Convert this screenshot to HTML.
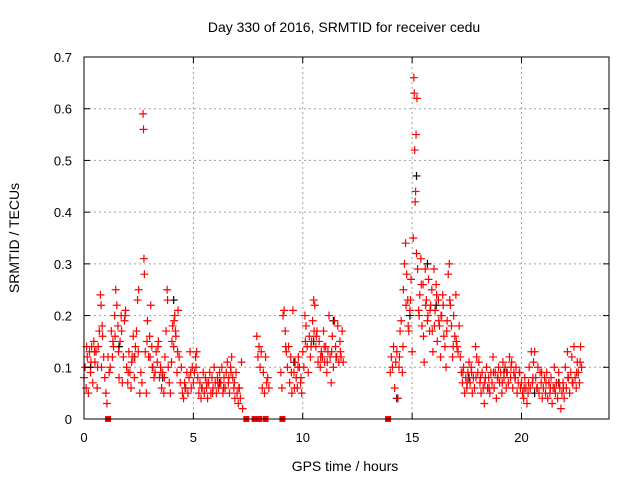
<!DOCTYPE html>
<html><head><meta charset="utf-8"><style>
body{margin:0;background:#fff;}
svg{display:block;font-family:"Liberation Sans",sans-serif;}
</style></head><body>
<svg id="chart" width="640" height="480" viewBox="0 0 640 480">
<rect width="640" height="480" fill="#fff"/>
<g id="grid"></g>
<g id="marks"></g>
<g id="axes"></g>
<text x="344" y="32" font-size="14" text-anchor="middle">Day 330 of 2016, SRMTID for receiver cedu</text>
<text x="345" y="471" font-size="14" text-anchor="middle">GPS time / hours</text>
<text transform="translate(19,238) rotate(-90)" font-size="14" text-anchor="middle">SRMTID / TECUs</text>
</svg>
<script>
const xTicks=[0,5,10,15,20];
const yTicks=[0,0.1,0.2,0.3,0.4,0.5,0.6,0.7];
const yTickLabels=["0","0.1","0.2","0.3","0.4","0.5","0.6","0.7"];
const hours=[0.0,0.05,0.1,0.15,0.2,0.25,0.3,0.35,0.4,0.45,0.5,0.55,0.6,0.65,0.7,0.75,0.78,0.8,0.85,0.9,0.95,1.0,1.05,1.1,1.15,1.2,1.25,1.3,1.35,1.4,1.45,1.5,1.55,1.6,1.65,1.7,1.75,1.8,1.85,1.9,1.95,2.0,2.05,2.1,2.15,2.2,2.25,2.3,2.35,2.4,2.45,2.5,2.55,2.6,2.65,2.7,2.72,2.74,2.76,2.8,2.85,2.9,2.95,3.0,3.05,3.1,3.15,3.2,3.25,3.3,3.35,3.4,3.45,3.5,3.55,3.6,3.65,3.7,3.75,3.8,3.82,3.85,3.9,3.95,4.0,4.05,4.1,4.15,4.2,4.25,4.3,4.35,4.4,4.45,4.5,4.55,4.6,4.65,4.7,4.75,4.8,4.85,4.9,4.95,5.0,5.05,5.1,5.15,5.2,5.25,5.3,5.35,5.4,5.45,5.5,5.55,5.6,5.65,5.7,5.75,5.8,5.85,5.9,5.95,6.0,6.05,6.1,6.15,6.2,6.25,6.3,6.35,6.4,6.45,6.5,6.55,6.6,6.65,6.7,6.75,6.8,6.85,6.9,6.95,7.0,7.05,7.1,7.15,7.2,7.25,
7.9,7.95,8.0,8.05,8.1,8.15,8.2,8.25,8.3,8.35,8.4,8.45,
9.0,9.05,9.1,9.15,9.2,9.25,9.3,9.35,9.4,9.45,9.5,9.55,9.6,9.65,9.7,9.75,9.8,9.85,9.9,9.95,10.0,10.05,10.1,10.15,10.2,10.25,10.3,10.35,10.4,10.45,10.5,10.55,10.6,10.65,10.7,10.75,10.8,10.85,10.9,10.95,11.0,11.05,11.1,11.15,11.2,11.25,11.3,11.35,11.4,11.45,11.5,11.55,11.6,11.65,11.7,11.75,11.8,11.85,
14.0,14.05,14.1,14.15,14.2,14.25,14.3,14.35,14.4,14.45,14.5,14.55,14.6,14.65,14.7,14.75,14.8,14.85,14.9,14.95,15.0,15.05,15.08,15.1,15.12,15.14,15.16,15.18,15.2,15.22,15.25,15.3,15.35,15.4,15.45,15.5,15.55,15.6,15.65,15.7,15.75,15.8,15.85,15.9,15.95,16.0,16.05,16.1,16.15,16.2,16.25,16.3,16.35,16.4,16.45,16.5,16.55,16.6,16.65,16.7,16.75,16.8,16.85,16.9,16.95,17.0,17.05,17.1,17.15,17.2,17.25,17.3,17.35,17.4,17.45,17.5,17.55,17.6,17.65,17.7,17.75,17.8,17.85,17.9,17.95,18.0,18.05,18.1,18.15,18.2,18.25,18.3,18.35,18.4,18.45,18.5,18.55,18.6,18.65,18.7,18.75,18.8,18.85,18.9,18.95,19.0,19.05,19.1,19.15,19.2,19.25,19.3,19.35,19.4,19.45,19.5,19.55,19.6,19.65,19.7,19.75,19.8,19.85,19.9,19.95,20.0,20.05,20.1,20.15,20.2,20.25,20.3,20.35,20.4,20.45,20.5,20.55,20.6,20.65,20.7,20.75,20.8,20.85,20.9,20.95,21.0,21.05,21.1,21.15,21.2,21.25,21.3,21.35,21.4,21.45,21.5,21.55,21.6,21.65,21.7,21.75,21.8,21.85,21.9,21.95,22.0,22.05,22.1,22.15,22.2,22.25,22.3,22.35,22.4,22.45,22.5,22.55,22.6,22.65,22.7,22.75];
const srmtid=[.08,.10,.06,.12,.05,.13,.09,.14,.07,.15,.11,.13,.06,.14,.17,.24,.22,.10,.16,.12,.08,.05,.03,.12,.09,.10,.17,.12,.14,.20,.25,.22,.18,.08,.15,.20,.07,.12,.19,.21,.10,.07,.13,.09,.06,.12,.16,.08,.14,.17,.23,.25,.05,.09,.07,.59,.56,.31,.28,.13,.05,.19,.12,.16,.22,.14,.10,.08,.09,.13,.11,.15,.08,.10,.06,.09,.05,.12,.17,.25,.23,.10,.07,.05,.11,.18,.14,.20,.16,.09,.21,.12,.07,.10,.05,.04,.07,.06,.09,.05,.08,.13,.06,.10,.07,.09,.12,.13,.08,.05,.07,.04,.06,.09,.05,.08,.06,.04,.07,.09,.05,.08,.06,.10,.07,.05,.08,.06,.09,.07,.10,.05,.08,.06,.09,.11,.07,.05,.10,.12,.08,.06,.04,.09,.05,.03,.06,.04,.11,.02,
.16,.12,.14,.10,.13,.06,.09,.05,.12,.07,.08,.06,
.09,.06,.20,.21,.17,.13,.10,.14,.07,.12,.05,.21,.09,.11,.08,.06,.12,.10,.07,.05,.13,.10,.20,.18,.14,.09,.16,.12,.15,.19,.23,.22,.14,.17,.11,.15,.10,.13,.12,.17,.11,.14,.09,.13,.20,.12,.07,.16,.10,.19,.14,.12,.18,.11,.15,.12,.17,.11,
.09,.12,.10,.14,.06,.11,.13,.04,.10,.17,.19,.09,.25,.30,.34,.28,.23,.17,.21,.27,.13,.35,.66,.63,.52,.42,.44,.55,.32,.62,.29,.21,.24,.31,.18,.26,.11,.29,.23,.19,.27,.17,.22,.25,.13,.29,.21,.26,.15,.23,.18,.12,.20,.24,.16,.14,.10,.19,.28,.30,.22,.18,.12,.20,.16,.24,.14,.13,.18,.12,.09,.07,.10,.05,.08,.06,.09,.11,.07,.10,.05,.08,.06,.14,.12,.09,.11,.07,.05,.09,.06,.03,.08,.10,.06,.08,.05,.09,.07,.12,.06,.09,.04,.08,.10,.07,.09,.05,.11,.08,.10,.06,.09,.07,.12,.08,.11,.06,.09,.08,.10,.05,.07,.09,.06,.07,.05,.04,.08,.06,.03,.05,.10,.06,.13,.07,.11,.13,.08,.06,.10,.05,.09,.07,.04,.06,.08,.05,.09,.04,.07,.05,.08,.03,.06,.10,.05,.07,.04,.09,.06,.02,.05,.07,.04,.10,.06,.13,.08,.05,.09,.12,.07,.14,.08,.06,.11,.09,.07,.14,.10];
const extraHours=[0.12,0.32,0.48,0.62,0.83,1.32,1.42,1.58,1.72,1.88,2.02,2.18,2.32,2.48,2.88,3.02,3.12,3.38,3.52,3.68,4.02,4.12,4.18,4.28,4.62,4.88,5.12,5.38,5.62,5.88,6.12,6.38,6.62,6.72,6.88,7.08,9.22,9.48,9.62,9.78,9.92,10.12,10.38,10.52,10.62,10.82,10.98,11.12,11.32,11.52,11.72,14.42,14.58,14.72,14.82,14.92,15.32,15.42,15.52,15.62,15.72,15.82,15.92,16.02,16.12,16.22,16.32,16.42,16.58,16.72,16.88,17.02,17.32,17.52,17.72,17.92,18.12,18.32,18.52,18.72,18.92,19.12,19.32,19.52,19.72,19.92,20.12,20.32,20.52,20.72,20.92,21.12,21.32,21.52,21.72,21.92,22.12,22.32,22.52,22.68];
const extraVals=[.14,.11,.13,.10,.18,.15,.16,.13,.17,.20,.09,.11,.12,.13,.15,.12,.10,.14,.09,.08,.15,.19,.17,.13,.06,.09,.10,.06,.07,.05,.07,.06,.08,.09,.07,.06,.14,.09,.06,.10,.08,.15,.14,.17,.16,.12,.14,.11,.13,.12,.13,.12,.14,.22,.18,.23,.20,.26,.16,.22,.20,.21,.17,.18,.24,.19,.20,.22,.17,.23,.14,.15,.09,.07,.09,.08,.08,.07,.06,.09,.08,.07,.09,.10,.08,.09,.06,.07,.08,.06,.09,.07,.06,.06,.07,.06,.08,.07,.09,.11];
const blackHours=[0.3,1.6,2.3,3.6,4.1,6.2,9.6,10.5,11.4,14.3,14.9,15.2,15.7,16.1,17.6,19.2,20.6,21.7];
const blackVals=[.10,.14,.12,.08,.23,.07,.11,.15,.19,.04,.20,.47,.30,.22,.08,.09,.05,.07];
const zeroHours=[1.1,7.42,7.8,8.0,8.3,9.07,13.9];

const X0=84,X1=609,Y0=419,Y1=57,XMAX=24,YMAX=0.7;
const xs=h=>X0+h/XMAX*(X1-X0);
const ys=v=>Y0-v/YMAX*(Y0-Y1);
const NS="http://www.w3.org/2000/svg";
const grid=document.getElementById('grid'),marks=document.getElementById('marks'),axes=document.getElementById('axes');
function mk(tag,attrs,parent){const e=document.createElementNS(NS,tag);for(const k in attrs)e.setAttribute(k,attrs[k]);parent.appendChild(e);return e;}
xTicks.forEach((t,i)=>{
  const x=xs(t);
  if(t>0){const g=mk('line',{x1:x,x2:x,y1:Y1,y2:Y0,stroke:'#a0a0a0','stroke-dasharray':'2,3'},grid);
  
  }
  mk('line',{x1:x,x2:x,y1:Y0,y2:Y0-6,stroke:'#000'},axes);
  mk('line',{x1:x,x2:x,y1:Y1,y2:Y1+6,stroke:'#000'},axes);
  const tx=mk('text',{x:x,y:Y0+23,'font-size':13,'text-anchor':'middle'},axes);
  tx.textContent=String(t);
  
  
});
yTicks.forEach((t,i)=>{
  const y=ys(t);
  if(t>0&&t<0.7){const g=mk('line',{x1:X0,x2:X1,y1:y,y2:y,stroke:'#a0a0a0','stroke-dasharray':'2,3'},grid);
  
  }
  mk('line',{x1:X0,x2:X0+6,y1:y,y2:y,stroke:'#000'},axes);
  mk('line',{x1:X1,x2:X1-6,y1:y,y2:y,stroke:'#000'},axes);
  const tx=mk('text',{x:X0-12,y:y+5,'font-size':13,'text-anchor':'end'},axes);
  tx.textContent=yTickLabels[i];
  
  
});
const frame=mk('rect',{x:X0,y:Y1,width:X1-X0,height:Y0-Y1,fill:'none',stroke:'#000'},axes);


function plus(x,y,col){
  return mk('path',{d:`M${x-4},${y}h8M${x},${y-4}v8`,stroke:col,'stroke-width':1.2,fill:'none'},marks);
}
blackHours.forEach((h,i)=>{
  const p=plus(xs(h),ys(blackVals[i]),'#000');
  
  
});
hours.forEach((h,i)=>{
  const p=plus(xs(h),ys(srmtid[i]),'#f00');
  
  
});
extraHours.forEach((h,i)=>{
  const p=plus(xs(h),ys(extraVals[i]),'#f00');
  
  
});
zeroHours.forEach(h=>{
  const r=mk('rect',{x:xs(h)-3,y:Y0-3,width:6,height:6,fill:'#f00'},marks);
  
  
});
</script>
</body></html>
